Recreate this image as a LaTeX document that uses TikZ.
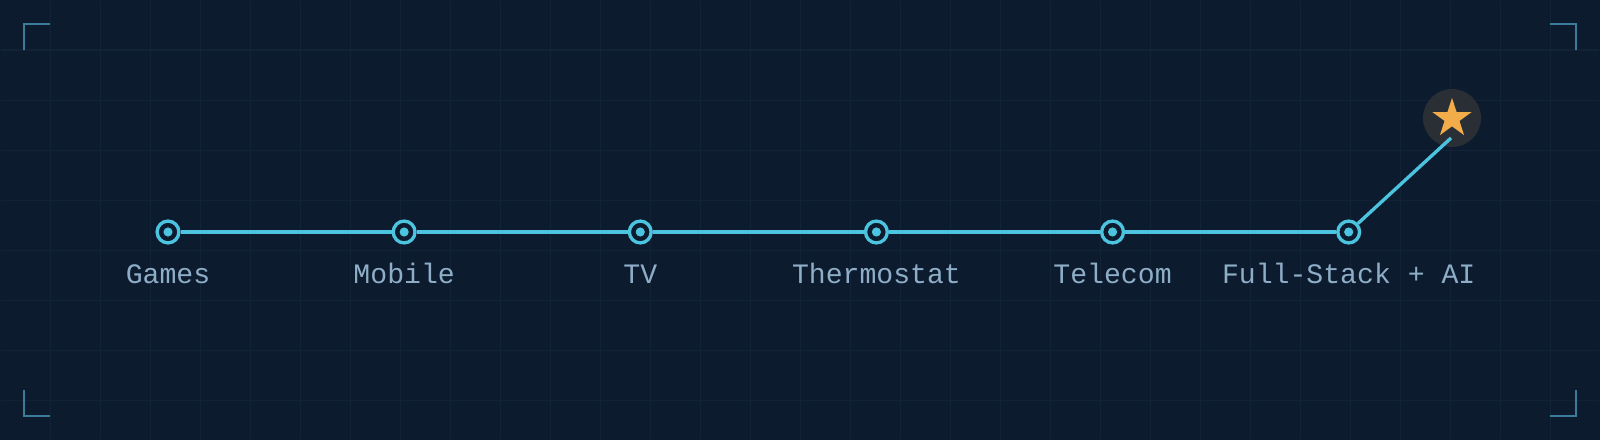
\documentclass[tikz,border=0pt]{standalone}
\usepackage{fontspec}
\setmonofont{Liberation Mono}
\usetikzlibrary{positioning,shapes.geometric}
\definecolor{bg}{HTML}{0D1B2E}
\definecolor{gridc}{HTML}{122237}
\definecolor{track}{HTML}{4CC4E0}
\definecolor{labelc}{HTML}{8EAEC8}
\definecolor{bracket}{HTML}{3B7D98}
\definecolor{gold}{HTML}{F2AD4A}
\definecolor{halo}{HTML}{2A2F36}

\begin{document}
\begin{tikzpicture}[
  x=0.01cm, y=-0.01cm,
  node distance=2.36cm, on grid,
  stop/.style={circle,draw=track,line width=0.95pt,fill=bg,minimum size=6.2pt,inner sep=0pt,
    path picture={\fill[track] (path picture bounding box.center) circle (1.3pt);}},
  lbl/.style={text=labelc,font=\ttfamily\fontsize{8}{9}\selectfont},
  link/.style={draw=track,line width=0.95pt},
  corner/.style={draw=bracket,line width=0.57pt}
]
% backdrop
\fill[bg] (0,0) rectangle (1600,440);
\useasboundingbox (0,0) rectangle (1600,440);
\draw[gridc,line width=0.3pt,step=0.5cm] (1,1) grid (1599,439);
% corners
\draw[corner] (24,50) -- (24,24) -- (50,24);
\draw[corner] (1550,24) -- (1576,24) -- (1576,50);
\draw[corner] (24,390) -- (24,416) -- (50,416);
\draw[corner] (1550,416) -- (1576,416) -- (1576,390);
% Timeline
\node[stop] (games) at (168,232) {};
\node[stop,right=of games] (mobile) {};
\node[stop,right=of mobile] (tv) {};
\node[stop,right=of tv] (thermo) {};
\node[stop,right=of thermo] (telecom) {};
\node[stop,right=of telecom] (fullstack) {};
% Labels
\node[lbl,below=0.51cm of games,anchor=base] (gamesl) {Games};
\node[lbl,below=0.51cm of mobile,anchor=base] (mobilel) {Mobile};
\node[lbl,below=0.51cm of tv,anchor=base] (tvl) {TV};
\node[lbl,below=0.51cm of thermo,anchor=base] (thermol) {Thermostat};
\node[lbl,below=0.51cm of telecom,anchor=base] (telecoml) {Telecom};
\node[lbl,below=0.51cm of fullstack,anchor=base] (fullstackl) {Full-Stack + AI};
% Goal
\node[circle,fill=halo,minimum size=16.5pt,inner sep=0pt] (goal) at (1452,118) {};
\coordinate (tip) at (1451,138);

\draw[link] (games) -- (mobile);
\draw[link] (mobile) -- (tv);
\draw[link] (tv) -- (thermo);
\draw[link] (thermo) -- (telecom);
\draw[link] (telecom) -- (fullstack);
\draw[link] (fullstack) -- (tip);

\node[star,star points=5,star point ratio=2.618,fill=gold,minimum size=11.7pt,inner sep=0pt] (starmark) at (1452,118.5) {};
\end{tikzpicture}
\end{document}
